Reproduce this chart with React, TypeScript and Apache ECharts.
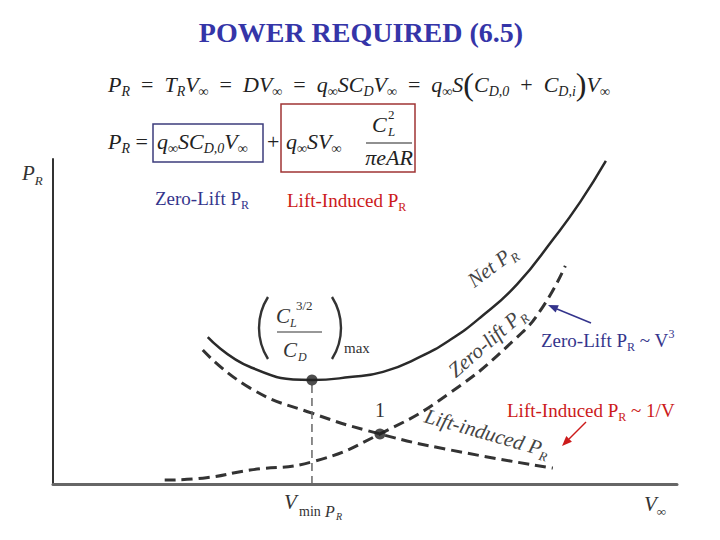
import React, { useEffect, useRef } from "react";
import * as echarts from "echarts";

// ---- data (V: 0..100, P: 0..100 arbitrary units) ----
const netV = [24.8, 31.6, 41.5, 47.6, 52.9, 58.8, 63.6, 68.4, 74.4, 80.3, 84.5, 88.6];
const netP = [45.2, 36.0, 32.0, 32.9, 34.5, 39.1, 44.3, 51.1, 61.5, 75.7, 86.8, 99.4];

const zeroV = [17.9, 24.0, 31.6, 41.5, 52.4, 63.6, 74.4, 78.5, 82.1];
const zeroP = [1.2, 1.8, 4.3, 6.8, 15.4, 28.0, 45.2, 54.5, 67.1];

const indV = [24.0, 31.6, 41.5, 52.4, 63.6, 80.1];
const indP = [41.2, 29.5, 21.8, 15.4, 10.5, 4.9];

const minPoint = [41.5, 32.0];
const crossPoint = [52.4, 15.4];

const FAM = "Liberation Serif";
const BLUE = "#34348c";
const RED = "#cc1a1a";
const INK = "#222";

const zip = (a: number[], b: number[]) => a.map((v, i) => [v, b[i]]);

function tok(size: number, color: string, italic: boolean, va?: string, lh?: number) {
  const st = italic ? "italic" : "normal";
  const o: any = {
    font: `${st} normal ${size}px ${FAM}`,
    fontFamily: FAM,
    fontStyle: st,
    fontSize: size,
    lineHeight: lh ?? size,
    fill: color,
  };
  if (va) o.verticalAlign = va;
  return o;
}

function rich(size: number, color: string) {
  const sub = Math.round(size * 0.62);
  return {
    i: tok(size, color, true, undefined, size + 6),
    n: tok(size, color, false, undefined, size + 6),
    p: tok(Math.round(size * 1.45), color, false, undefined, size + 6),
    s: tok(sub, color, true, "bottom", sub),
    su: tok(sub, color, false, "top", sub),
    sn: tok(sub, color, false, "bottom", sub),
  };
}

function rt(x: number, y: number, text: string, size: number, color: string, extra: any = {}) {
  const { align, ...rest } = extra;
  return {
    type: "text",
    x,
    y,
    ...rest,
    style: {
      text,
      rich: rich(size, color),
      fill: color,
      font: `normal normal ${size}px ${FAM}`,
      fontFamily: FAM,
      fontSize: size,
      align: align || "left",
      verticalAlign: "middle",
    },
  };
}

function txt(x: number, y: number, text: string, size: number, color: string, extra: any = {}) {
  const { italic, align, weight, ...rest } = extra;
  return {
    type: "text",
    x,
    y,
    ...rest,
    style: {
      text,
      fill: color,
      fontFamily: FAM,
      fontSize: size,
      fontStyle: italic ? "italic" : "normal",
      fontWeight: weight || "normal",
      align: align || "left",
      verticalAlign: "middle",
    },
  };
}

const deg = (d: number) => (d * Math.PI) / 180;

function paren(edgeX: number, cy: number, h: number, bulge: number, left: boolean) {
  const r = ((h / 2) ** 2 + bulge ** 2) / (2 * bulge);
  const half = Math.asin(h / 2 / r);
  const cx = left ? edgeX + r : edgeX - r;
  return {
    type: "arc",
    shape: left
      ? { cx, cy, r, startAngle: Math.PI - half, endAngle: Math.PI + half, clockwise: true }
      : { cx, cy, r, startAngle: -half, endAngle: half, clockwise: true },
    style: { stroke: "#333", lineWidth: 2.4, fill: "none" },
  };
}

export default function App() {
  const ref = useRef<HTMLDivElement>(null);
  useEffect(() => {
    if (!ref.current) return;
    const chart = echarts.init(ref.current, undefined, { renderer: "svg" });
    const dashed = { color: "#333", width: 3, type: [11, 6] as any };
    chart.setOption({
      animation: false,
      backgroundColor: "#fff",
      grid: { left: 53, right: 43, top: 159, bottom: 56 },
      xAxis: {
        type: "value",
        min: 0,
        max: 100,
        axisLine: { show: true, lineStyle: { color: "#666", width: 3 } },
        axisTick: { show: false },
        axisLabel: { show: false },
        splitLine: { show: false },
      },
      yAxis: {
        type: "value",
        min: 0,
        max: 100,
        axisLine: { show: true, lineStyle: { color: "#333", width: 2 } },
        axisTick: { show: false },
        axisLabel: { show: false },
        splitLine: { show: false },
      },
      series: [
        {
          name: "Net PR",
          type: "line",
          data: zip(netV, netP),
          smooth: 0.5,
          showSymbol: false,
          lineStyle: { color: "#2a2a2a", width: 2.5 },
        },
        {
          name: "Zero-lift PR",
          type: "line",
          data: zip(zeroV, zeroP),
          smooth: 0.5,
          showSymbol: false,
          lineStyle: dashed,
        },
        {
          name: "Lift-induced PR",
          type: "line",
          data: zip(indV, indP),
          smooth: 0.5,
          showSymbol: false,
          lineStyle: dashed,
        },
        {
          name: "Vmin",
          type: "line",
          data: [[minPoint[0], 0], [minPoint[0], minPoint[1]]],
          showSymbol: false,
          lineStyle: { color: "#666", width: 1.5, type: [8, 5] as any },
        },
        {
          name: "points",
          type: "scatter",
          data: [minPoint, crossPoint],
          symbolSize: 11,
          itemStyle: { color: "#222" },
          z: 5,
        },
      ],
      graphic: [
        // title
        txt(361, 32, "POWER REQUIRED (6.5)", 28, "#3535a8", { align: "center", weight: "bold" }),
        // equation row 1
        rt(
          108,
          84,
          "{i|P}{s|R}{n|  =  }{i|T}{s|R}{i|V}{s|∞}{n|  =  }{i|DV}{s|∞}{n|  =  }{i|q}{s|∞}{i|SC}{s|D}{i|V}{s|∞}{n|  =  }{i|q}{s|∞}{i|S}{p|(}{i|C}{s|D,0}{n|  +  }{i|C}{s|D,i}{p|)}{i|V}{s|∞}",
          22,
          INK
        ),
        // equation row 2
        rt(108, 141, "{i|P}{s|R}{n| =}", 22, INK),
        { type: "rect", shape: { x: 153, y: 124, width: 110, height: 38 }, style: { fill: "none", stroke: "#3c3c7c", lineWidth: 1.5 } },
        rt(157, 141, "{i|q}{s|∞}{i|SC}{s|D,0}{i|V}{s|∞}", 22, INK),
        rt(267, 141, "{n|+}", 22, INK),
        { type: "rect", shape: { x: 281, y: 104, width: 134, height: 68 }, style: { fill: "none", stroke: "#a03434", lineWidth: 1.5 } },
        rt(286, 141, "{i|q}{s|∞}{i|SV}{s|∞}", 22, INK),
        txt(372, 124, "C", 22, INK, { italic: true }),
        txt(388, 114, "2", 13, INK),
        txt(388, 131, "L", 13, INK, { italic: true }),
        { type: "line", shape: { x1: 366, y1: 143, x2: 412, y2: 143 }, style: { stroke: INK, lineWidth: 1.2 } },
        txt(389, 157, "πeAR", 22, INK, { italic: true, align: "center" }),
        // coloured captions
        rt(155, 198, "{n|Zero-Lift P}{sn|R}", 19, BLUE),
        rt(287, 200, "{n|Lift-Induced P}{sn|R}", 19, RED),
        rt(541, 340, "{n|Zero-Lift P}{sn|R}{n| ~ V}{su|3}", 19, BLUE),
        rt(507, 410, "{n|Lift-Induced P}{sn|R}{n| ~ 1/V}", 19, RED),
        // arrows
        { type: "line", shape: { x1: 591, y1: 323, x2: 557, y2: 309 }, style: { stroke: BLUE, lineWidth: 1.5 } },
        { type: "polygon", shape: { points: [[548, 305], [558.8, 305.2], [555.7, 312.6]] }, style: { fill: BLUE } },
        { type: "line", shape: { x1: 586, y1: 422, x2: 569, y2: 439 }, style: { stroke: RED, lineWidth: 1.5 } },
        { type: "polygon", shape: { points: [[562, 446], [571.9, 441.7], [566.3, 436.1]] }, style: { fill: RED } },
        // axis labels
        rt(22, 173, "{i|P}{s|R}", 21, "#333"),
        rt(644, 504, "{i|V}{s|∞}", 21, "#333"),
        txt(284, 502, "V", 21, "#333", { italic: true }),
        txt(299, 511, "min", 14, "#333"),
        txt(325, 511, "P", 16, "#333", { italic: true }),
        txt(336, 516, "R", 10, "#333", { italic: true }),
        // curve labels
        rt(492, 266, "{i|Net P}{s|R}", 21, "#444", { rotation: deg(37), align: "center" }),
        rt(487, 342, "{i|Zero-lift P}{s|R}", 21, "#444", { rotation: deg(41), align: "center" }),
        rt(487, 433, "{i|Lift-induced P}{s|R}", 21, "#444", { rotation: deg(-16), align: "center" }),
        txt(380, 410, "1", 20, "#333", { align: "center" }),
        // (C_L^{3/2} / C_D)_max
        paren(259, 328, 62, 9, true),
        paren(341, 328, 62, 9, false),
        txt(276, 316, "C", 21, "#333", { italic: true }),
        txt(290, 323, "L", 12, "#333", { italic: true }),
        txt(296, 305, "3/2", 13, "#333"),
        { type: "line", shape: { x1: 277, y1: 332, x2: 322, y2: 332 }, style: { stroke: "#333", lineWidth: 1.2 } },
        txt(283, 350, "C", 21, "#333", { italic: true }),
        txt(298, 357, "D", 12, "#333", { italic: true }),
        txt(344, 348, "max", 15, "#333"),
      ],
    });
    return () => chart.dispose();
  }, []);
  return <div ref={ref} style={{ position: "fixed", left: 0, top: 0, width: 720, height: 540 }} />;
}
